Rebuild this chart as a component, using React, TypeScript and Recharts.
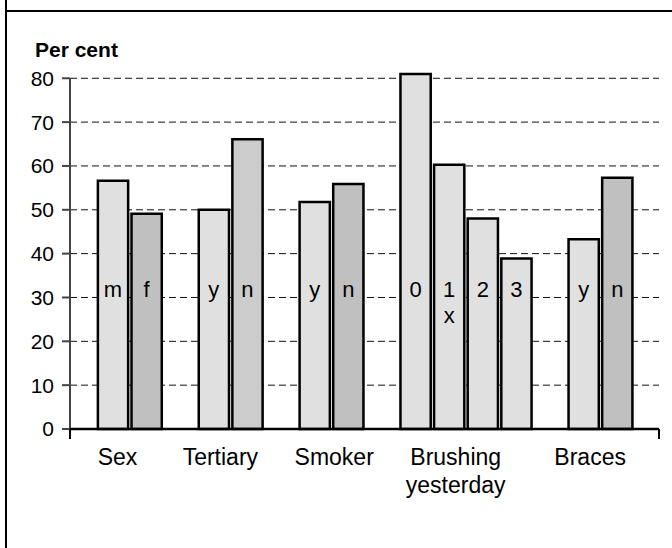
import React from "react";
import { BarChart, Bar, XAxis, YAxis, CartesianGrid, Cell, LabelList, ReferenceLine } from "recharts";

const GROUPS = ["Sex", "Tertiary", "Smoker", "Brushing\nyesterday", "Braces"];
const BAR_TAGS = [["m", "f"], ["y", "n"], ["y", "n"], ["0", "1\nx", "2", "3"], ["y", "n"]];
const PERCENTS = [
  [56.6, 49.1],
  [50.0, 66.1],
  [51.8, 55.9],
  [81.0, 60.3, 48.0, 38.9],
  [43.3, 57.3],
];
const Y_TICKS = [0, 10, 20, 30, 40, 50, 60, 70, 80];
const Y_TOP = 82; // headroom so the tallest bar can rise over the 80 line

// layout (slot = one bar width)
const W = 672;
const H = 548;
const MARGIN = { top: 69.5, right: 13, bottom: 59, left: 0 };
const Y_AXIS_W = 70;
const X_AXIS_H = 60;
const EDGE_LEFT = 0.77;
const EDGE_RIGHT = 0.75;
const TAG_LEVEL = 30;
const END_TICK = 10;
const LABEL_SHIFT = [-12, -10, 3, -10, -10];
const FONT = "'Liberation Sans', Arial, Helvetica, sans-serif";

const LIGHT = "#e0e0e0";
const DARK = ["#c0c0c0", "#cccccc", "#c0c0c0", LIGHT, "#c0c0c0"];

// build one row per bar, with an empty slot between groups
const rows: any[] = [];
const groupCenters: number[] = [];
let slot = EDGE_LEFT;
PERCENTS.forEach((vals, g) => {
  const start = slot;
  vals.forEach((v, j) => {
    rows.push({ pos: slot + 0.5, value: v, tag: BAR_TAGS[g][j], g, j });
    slot += 1;
  });
  groupCenters.push((start + slot) / 2);
  if (g < PERCENTS.length - 1) slot += 1;
});
const TOTAL = slot + EDGE_RIGHT;
const PLOT_W = W - MARGIN.left - MARGIN.right - Y_AXIS_W;
const PX_PER_SLOT = PLOT_W / TOTAL;
const X_TICKS = [0, ...groupCenters, TOTAL];

const GroupTick = (props: any) => {
  const { x, y, index } = props;
  if (index === 0 || index === X_TICKS.length - 1) {
    return <line x1={x} x2={x} y1={y - END_TICK} y2={y} stroke="#000" strokeWidth={2} />;
  }
  const lines = GROUPS[index - 1].split("\n");
  const cx = x + LABEL_SHIFT[index - 1];
  return (
    <text x={cx} y={y} textAnchor="middle" fontSize={23} fill="#000" fontFamily={FONT}>
      {lines.map((l, i) => (
        <tspan key={i} x={cx} dy={i === 0 ? 26 : 28}>
          {l}
        </tspan>
      ))}
    </text>
  );
};

const TagLabel = (props: any) => {
  const { x, y, width, height, value, index } = props;
  const row = rows[index];
  const bottom = Number(y) + Number(height);
  const unit = Number(height) / row.value;
  const base = bottom - TAG_LEVEL * unit;
  const cx = Number(x) + Number(width) / 2;
  const lines = String(value).split("\n");
  return (
    <text x={cx} y={base} textAnchor="middle" fontSize={22} fill="#000" fontFamily={FONT}>
      {lines.map((l, i) => (
        <tspan key={i} x={cx} dy={i === 0 ? 0 : 26}>
          {l}
        </tspan>
      ))}
    </text>
  );
};

const PerCent = (props: any) => {
  const vb = props.viewBox;
  return (
    <text x={vb.x + 35} y={vb.y - 13} fontSize={21} fontWeight="bold" fill="#000" fontFamily={FONT}>
      Per cent
    </text>
  );
};

export default function App() {
  return (
    <div
      style={{
        position: "absolute",
        left: 0,
        top: 0,
        width: W,
        height: H,
        background: "#fff",
        fontFamily: FONT,
      }}
    >
      <div style={{ position: "absolute", left: 5, top: 0, width: 2, height: H, background: "#000" }} />
      <div style={{ position: "absolute", left: 5, top: 10, width: W - 5, height: 2, background: "#000" }} />
      <BarChart width={W} height={H} data={rows} margin={MARGIN}>
        <CartesianGrid
          vertical={false}
          horizontalValues={Y_TICKS}
          stroke="#111"
          strokeDasharray="7 4"
        />
        <XAxis
          type="number"
          dataKey="pos"
          domain={[0, TOTAL]}
          ticks={X_TICKS}
          interval={0}
          height={X_AXIS_H}
          tickLine={false}
          tickSize={END_TICK}
          tickMargin={0}
          tick={<GroupTick />}
          axisLine={{ stroke: "#000", strokeWidth: 2.5 }}
        />
        <YAxis
          type="number"
          domain={[0, Y_TOP]}
          ticks={Y_TICKS}
          interval={0}
          width={Y_AXIS_W}
          tickSize={8}
          tickMargin={8}
          tick={{ fontSize: 21, fill: "#000", fontFamily: FONT }}
          tickLine={{ stroke: "#444", strokeWidth: 2 }}
          axisLine={false}
          label={(p: any) => <PerCent {...p} />}
        />
        <ReferenceLine
          segment={[
            { x: 0, y: Y_TICKS[0] },
            { x: 0, y: Y_TICKS[Y_TICKS.length - 1] },
          ]}
          stroke="#444"
          strokeWidth={2}
        />
        <Bar
          dataKey="value"
          barSize={PX_PER_SLOT}
          stroke="#000"
          strokeWidth={2.5}
          isAnimationActive={false}
        >
          {rows.map((r, i) => (
            <Cell key={`bar-${i}`} fill={r.j === 0 ? LIGHT : DARK[r.g]} />
          ))}
          <LabelList dataKey="tag" content={<TagLabel />} />
        </Bar>
      </BarChart>
    </div>
  );
}
